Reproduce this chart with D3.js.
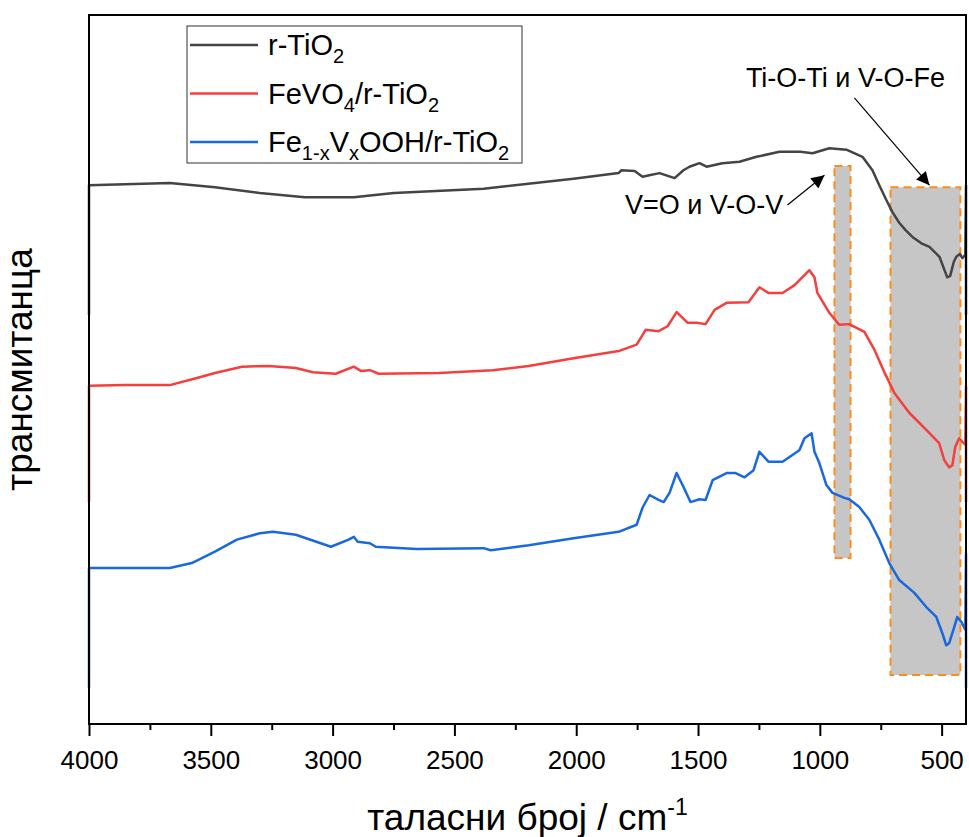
<!DOCTYPE html>
<html>
<head>
<meta charset="utf-8">
<script src="https://cdn.jsdelivr.net/npm/d3@7/dist/d3.min.js"></script>
<style>
  body { margin: 0; background: #fff; }
  text { font-family: Arial, "Liberation Sans", sans-serif; fill: #000; }
</style>
</head>
<body>
<div class="chart"></div>
<script>
// FTIR spectra, values (transmittance in arbitrary units, offset per sample)
var tioWn = [4000, 4000, 3668, 3483, 3299, 3114, 2913, 2749, 2380, 2011, 1826, 1815, 1760, 1728, 1700, 1658, 1596, 1560, 1535, 1494, 1465, 1400, 1330, 1260, 1166, 1080, 1030, 961, 891, 825, 784, 756, 727, 702, 674, 649, 620, 583, 550, 509, 477, 465, 450, 440, 425, 415, 403, 400, 400];
var tioT = [57.7, 76.0, 76.3, 75.7, 74.9, 74.3, 74.3, 74.9, 75.5, 76.9, 77.7, 78.1, 78.0, 77.2, 77.4, 77.7, 77.0, 78.1, 78.6, 79.1, 78.6, 79.1, 79.3, 80.0, 80.7, 80.7, 80.5, 81.2, 81.0, 80.0, 78.1, 76.0, 73.9, 72.2, 70.7, 69.7, 68.7, 67.8, 67.3, 65.9, 63.0, 63.2, 65.2, 65.9, 66.3, 65.7, 66.2, 76.0, 57.7];

var fevWn = [4000, 4000, 3852, 3668, 3557, 3483, 3372, 3262, 3151, 3081, 2987, 2913, 2884, 2847, 2811, 2564, 2343, 2195, 2011, 1826, 1752, 1715, 1662, 1625, 1588, 1543, 1506, 1469, 1432, 1383, 1293, 1248, 1211, 1153, 1104, 1063, 1043, 1022, 1010, 961, 920, 879, 817, 776, 735, 694, 633, 563, 510, 489, 469, 456, 444, 428, 415, 403, 400, 400];
var fevT = [31.3, 47.7, 47.8, 47.8, 48.8, 49.5, 50.4, 50.5, 50.2, 49.6, 49.4, 50.4, 49.8, 49.9, 49.4, 49.5, 49.9, 50.5, 51.6, 52.6, 53.5, 55.6, 55.4, 56.1, 58.1, 56.6, 56.6, 56.4, 58.4, 59.4, 59.5, 61.6, 60.8, 60.8, 61.9, 63.3, 64.0, 63.0, 60.8, 58.0, 56.3, 56.4, 55.3, 52.8, 49.6, 46.7, 43.9, 41.5, 39.6, 37.2, 36.2, 36.5, 39.1, 40.3, 39.8, 39.4, 47.7, 31.3];

var oohWn = [4000, 4000, 3668, 3578, 3483, 3393, 3299, 3245, 3151, 3007, 2934, 2913, 2897, 2847, 2823, 2655, 2380, 2351, 2195, 2011, 1826, 1752, 1728, 1699, 1662, 1641, 1617, 1588, 1559, 1531, 1494, 1469, 1440, 1383, 1346, 1309, 1272, 1248, 1211, 1153, 1084, 1063, 1034, 1022, 1002, 973, 948, 899, 879, 838, 797, 756, 715, 674, 612, 563, 522, 497, 481, 469, 448, 436, 419, 403, 400, 400];
var oohT = [5.1, 22.0, 22.0, 22.7, 24.3, 26.0, 26.9, 27.1, 26.7, 25.0, 26.0, 26.4, 25.7, 25.5, 25.0, 24.7, 24.8, 24.5, 25.2, 26.2, 27.1, 28.1, 30.5, 32.3, 31.6, 31.3, 32.6, 35.4, 33.4, 31.3, 31.7, 31.6, 34.4, 35.4, 35.4, 34.8, 35.8, 38.4, 37.0, 37.0, 38.6, 40.3, 41.0, 38.4, 36.8, 33.7, 32.6, 31.9, 31.7, 30.6, 28.8, 26.0, 22.7, 20.3, 18.5, 16.5, 15.1, 12.8, 11.1, 11.4, 13.7, 15.1, 14.4, 13.3, 24.1, 5.1];

var seriesNames = ["r-TiO2", "FeVO4/r-TiO2", "Fe1-xVxOOH/r-TiO2"];
var seriesColors = ["#444444", "#f53f3f", "#1a68df"];
var xTicks = [4000, 3500, 3000, 2500, 2000, 1500, 1000, 500];

// highlighted bands [from, to] in cm-1 and [bottom, top] in transmittance units
var bandX = [[940, 874], [710, 423]];
var bandY = [[23.4, 78.7], [6.9, 75.7]];
var bandLabels = ["V=O и V-O-V", "Ti-O-Ti и V-O-Fe"];

var svgWidth = 969;
var svgHeight = 837;

var margin = {
  top: 15,
  right: 3,
  bottom: 113,
  left: 89
};

var width = svgWidth - margin.left - margin.right;
var height = svgHeight - margin.top - margin.bottom;

var svg = d3.select(".chart")
  .append("svg")
  .attr("width", svgWidth)
  .attr("height", svgHeight);

svg.append("defs").append("marker")
  .attr("id", "head")
  .attr("viewBox", "0 0 10 10")
  .attr("refX", 10)
  .attr("refY", 5)
  .attr("markerWidth", 18)
  .attr("markerHeight", 13)
  .attr("markerUnits", "userSpaceOnUse")
  .attr("orient", "auto")
  .append("path")
  .attr("d", "M0,0 L10,5 L0,10 Z")
  .attr("fill", "#000");

var chartGroup = svg.append("g")
  .attr("transform", `translate(${margin.left}, ${margin.top})`);

var xScale = d3.scaleLinear()
  .domain([4000, 400])
  .range([0, width]);

var yScale = d3.scaleLinear()
  .domain([0, 100])
  .range([height, 0]);

// bands first, lines go on top
bandX.forEach(function(bx, i) {
  chartGroup.append("rect")
    .attr("x", xScale(bx[0]))
    .attr("y", yScale(bandY[i][1]))
    .attr("width", xScale(bx[1]) - xScale(bx[0]))
    .attr("height", yScale(bandY[i][0]) - yScale(bandY[i][1]))
    .attr("fill", "#c6c6c6")
    .attr("stroke", "#ff8c1a")
    .attr("stroke-width", 2)
    .attr("stroke-dasharray", "8,5");
});

var line = d3.line()
  .x(d => xScale(d[0]))
  .y(d => yScale(d[1]));

var allSeries = [
  d3.zip(tioWn, tioT),
  d3.zip(fevWn, fevT),
  d3.zip(oohWn, oohT)
];

allSeries.forEach(function(data, i) {
  chartGroup.append("path")
    .datum(data)
    .attr("fill", "none")
    .attr("stroke", seriesColors[i])
    .attr("stroke-width", 2.5)
    .attr("stroke-linejoin", "round")
    .attr("d", line);
});

// axes
var bottomAxis = d3.axisBottom(xScale)
  .tickValues(xTicks)
  .tickSize(12)
  .tickPadding(15)
  .tickFormat(d3.format("d"));

var minorAxis = d3.axisBottom(xScale)
  .tickValues(d3.range(3750, 400, -500))
  .tickSize(6)
  .tickFormat("");

var xAxisG = chartGroup.append("g")
  .attr("transform", `translate(0, ${height})`)
  .call(bottomAxis);
xAxisG.selectAll("text")
  .attr("font-size", 26)
  .attr("font-family", "Arial, 'Liberation Sans', sans-serif");
xAxisG.selectAll("line").attr("stroke-width", 2);

var minorG = chartGroup.append("g")
  .attr("transform", `translate(0, ${height})`)
  .call(minorAxis);
minorG.selectAll("line").attr("stroke-width", 2);
minorG.select(".domain").remove();
xAxisG.select(".domain").remove();

// frame
chartGroup.append("rect")
  .attr("x", 0)
  .attr("y", 0)
  .attr("width", width)
  .attr("height", height)
  .attr("fill", "none")
  .attr("stroke", "#000")
  .attr("stroke-width", 2);

// axis titles
var xTitle = chartGroup.append("text")
  .attr("x", width / 2)
  .attr("y", height + 106)
  .attr("text-anchor", "middle")
  .attr("font-size", 37);
xTitle.append("tspan").text("таласни број / cm");
xTitle.append("tspan").attr("font-size", 23).attr("dy", -15).text("-1");

chartGroup.append("text")
  .attr("transform", "rotate(-90)")
  .attr("x", -height / 2)
  .attr("y", -margin.left + 32)
  .attr("text-anchor", "middle")
  .attr("font-size", 37)
  .text("трансмитанца");

// band annotations
var ann = [
  {label: bandLabels[0], tx: 1150, ty: 71.9, anchor: "end", from: [1133, 73.2], to: [981, 77.4]},
  {label: bandLabels[1], tx: 895, ty: 89.9, anchor: "middle", from: [858, 88.3], to: [550, 76.0]}
];
ann.forEach(function(a) {
  chartGroup.append("text")
    .attr("x", xScale(a.tx))
    .attr("y", yScale(a.ty))
    .attr("text-anchor", a.anchor)
    .attr("font-size", 27)
    .text(a.label);
  chartGroup.append("line")
    .attr("x1", xScale(a.from[0]))
    .attr("y1", yScale(a.from[1]))
    .attr("x2", xScale(a.to[0]))
    .attr("y2", yScale(a.to[1]))
    .attr("stroke", "#000")
    .attr("stroke-width", 1.2)
    .attr("marker-end", "url(#head)");
});

// legend
var legend = chartGroup.append("g")
  .attr("transform", "translate(98, 11)");

legend.append("rect")
  .attr("width", 335)
  .attr("height", 137)
  .attr("fill", "#fff")
  .attr("stroke", "#333")
  .attr("stroke-width", 1);

// name pieces: [text, shift] where shift = 0 normal, 1 subscript
var legendParts = [
  [["r-TiO", 0], ["2", 1]],
  [["FeVO", 0], ["4", 1], ["/r-TiO", 0], ["2", 1]],
  [["Fe", 0], ["1-x", 1], ["V", 0], ["x", 1], ["OOH/r-TiO", 0], ["2", 1]]
];

seriesNames.forEach(function(name, i) {
  var ly = 19 + i * 48.5;
  legend.append("line")
    .attr("x1", 3)
    .attr("x2", 71)
    .attr("y1", ly)
    .attr("y2", ly)
    .attr("stroke", seriesColors[i])
    .attr("stroke-width", 2.5);
  var t = legend.append("text")
    .attr("x", 81)
    .attr("y", ly + 10)
    .attr("font-size", 29);
  var prev = 0;
  legendParts[i].forEach(function(p) {
    var dy = (p[1] - prev) * 8;
    t.append("tspan")
      .attr("dy", dy)
      .attr("font-size", p[1] ? 20 : 29)
      .text(p[0]);
    prev = p[1];
  });
});
</script>
</body>
</html>
